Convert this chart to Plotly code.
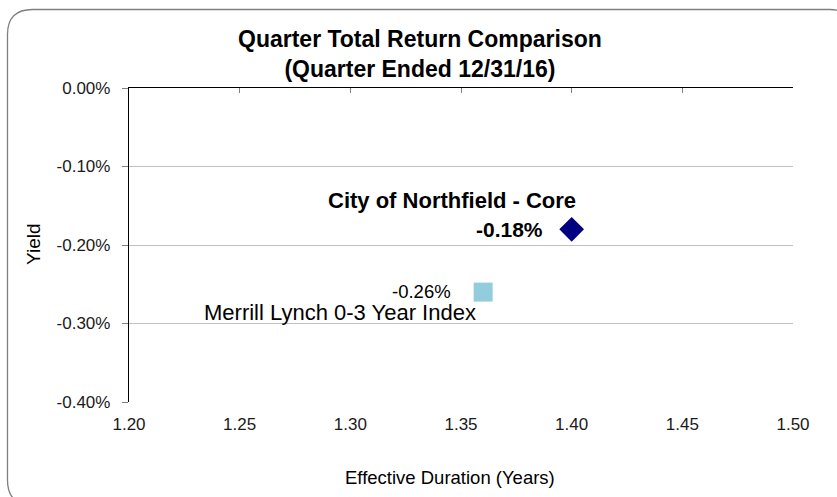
import plotly.graph_objects as go

# ---- data ----
series_names = ["City of Northfield - Core", "Merrill Lynch 0-3 Year Index"]
durations = [1.40, 1.36]          # Effective Duration (Years)
yields = [-0.0018, -0.0026]       # Quarter total return
x_ticks = [1.20, 1.25, 1.30, 1.35, 1.40, 1.45, 1.50]
y_ticks = [0.0, -0.001, -0.002, -0.003, -0.004]

FONT = "Arial, Liberation Sans, sans-serif"

fig = go.Figure()

# City of Northfield - Core (navy diamond)
fig.add_trace(go.Scatter(
    x=[durations[0]], y=[yields[0]], mode="markers",
    marker=dict(symbol="diamond", size=19, color="#000080"),
    name=series_names[0], showlegend=False, hoverinfo="skip"))
# Merrill Lynch index (light blue square)
fig.add_trace(go.Scatter(
    x=[durations[1]], y=[yields[1]], mode="markers",
    marker=dict(symbol="square", size=19, color="#93CDDD"),
    name=series_names[1], showlegend=False, hoverinfo="skip"))
# empty trace to anchor the top axis line
fig.add_trace(go.Scatter(x=[], y=[], xaxis="x2", showlegend=False, hoverinfo="skip"))

tickfont = dict(family=FONT, size=17, color="#1a1a1a")

fig.update_layout(
    width=837, height=497,
    margin=dict(l=129, r=44, t=88, b=95),
    paper_bgcolor="white", plot_bgcolor="white",
    showlegend=False,
    xaxis=dict(range=[1.2, 1.5], tickmode="array", tickvals=x_ticks,
               ticktext=[f"{v:.2f}" for v in x_ticks],
               showgrid=False, zeroline=False, showline=False, ticks="",
               tickfont=tickfont, ticklabelstandoff=10),
    xaxis2=dict(overlaying="x", side="top", matches="x", range=[1.2, 1.5],
                tickmode="array", tickvals=x_ticks, showticklabels=False,
                showgrid=False, zeroline=False, showline=True, linecolor="black",
                linewidth=1.3, ticks="inside", ticklen=5, tickcolor="#808080"),
    yaxis=dict(range=[-0.004, 0], tickmode="array", tickvals=y_ticks,
               ticktext=[f"{v*100:.2f}%" for v in y_ticks],
               showgrid=True, gridcolor="#c0c0c0", gridwidth=1.2, zeroline=False,
               showline=True, linecolor="black", linewidth=1.3,
               ticks="outside", ticklen=6, tickcolor="#808080",
               tickfont=tickfont, ticklabelstandoff=8),
)

# rounded chart border (paper coordinates)
xl, xr, yt, yb = -0.183, 1.093, 1.25, -0.328
rx, ry = 0.0377, 0.0796
path = (f"M {xl},{yt-ry} Q {xl},{yt} {xl+rx},{yt} L {xr-rx},{yt} "
        f"Q {xr},{yt} {xr},{yt-ry} L {xr},{yb+ry} Q {xr},{yb} {xr-rx},{yb} "
        f"L {xl+rx},{yb} Q {xl},{yb} {xl},{yb+ry} Z")
fig.add_shape(type="path", path=path, xref="paper", yref="paper",
              line=dict(color="#7f7f7f", width=1.3), layer="below")

ann = []
# title
ann.append(dict(text="<b>Quarter Total Return Comparison<br>(Quarter Ended 12/31/16)</b>",
                xref="paper", yref="paper", x=0.438, y=1.107,
                xanchor="center", yanchor="middle", showarrow=False,
                font=dict(family=FONT, size=23, color="black")))
# axis titles
ann.append(dict(text="Effective Duration (Years)", xref="paper", yref="paper",
                x=0.483, y=-0.242, xanchor="center", yanchor="middle",
                showarrow=False, font=dict(family=FONT, size=18.5, color="black")))
ann.append(dict(text="Yield", xref="paper", yref="paper", x=-0.1446, y=0.503,
                xanchor="center", yanchor="middle", textangle=-90,
                showarrow=False, font=dict(family=FONT, size=19, color="black")))
# data labels
ann.append(dict(text=f"<b>{series_names[0]}</b>", x=durations[0], y=yields[0],
                xanchor="center", yanchor="middle", xshift=-120, yshift=29,
                showarrow=False, font=dict(family=FONT, size=22, color="black")))
ann.append(dict(text=f"<b>{yields[0]*100:.2f}%</b>", x=durations[0], y=yields[0],
                xanchor="right", yanchor="middle", xshift=-27, yshift=0,
                showarrow=False, font=dict(family=FONT, size=21, color="black")))
ann.append(dict(text=f"{yields[1]*100:.2f}%", x=durations[1], y=yields[1],
                xanchor="right", yanchor="middle", xshift=-30, yshift=1,
                showarrow=False, font=dict(family=FONT, size=18.5, color="black")))
ann.append(dict(text=series_names[1], x=durations[1], y=yields[1],
                xanchor="right", yanchor="middle", xshift=-5, yshift=-20,
                showarrow=False, font=dict(family=FONT, size=22, color="black")))
fig.update_layout(annotations=ann)

fig.write_html("out.html", config={"displayModeBar": False},
               post_script="document.body.style.margin='0';")
